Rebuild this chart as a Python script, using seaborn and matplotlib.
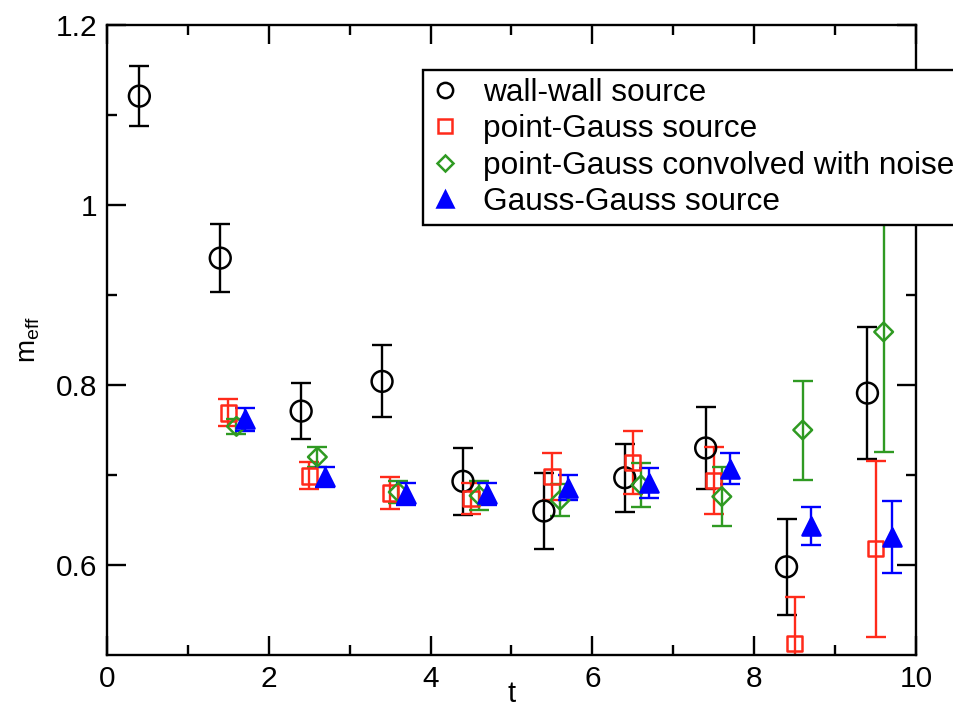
import numpy as np
import pandas as pd
import matplotlib
matplotlib.use("Agg")
import matplotlib.pyplot as plt
from matplotlib.lines import Line2D
import seaborn as sns

# Effective mass per time slice for four source types
t_wall = [0.4, 1.4, 2.4, 3.4, 4.4, 5.4, 6.4, 7.4, 8.4, 9.4]
m_wall = [1.121, 0.941, 0.771, 0.804, 0.693, 0.660, 0.697, 0.730, 0.598, 0.791]
e_wall = [0.033, 0.038, 0.031, 0.040, 0.037, 0.042, 0.038, 0.046, 0.053, 0.073]

t_pg = [1.5, 2.5, 3.5, 4.5, 5.5, 6.5, 7.5, 8.5, 9.5]
m_pg = [0.769, 0.699, 0.680, 0.674, 0.698, 0.714, 0.694, 0.513, 0.618]
e_pg = [0.015, 0.015, 0.018, 0.017, 0.026, 0.035, 0.037, 0.052, 0.098]

t_pgn = [1.6, 2.6, 3.6, 4.6, 5.6, 6.6, 7.6, 8.6, 9.6]
m_pgn = [0.754, 0.720, 0.681, 0.677, 0.672, 0.689, 0.676, 0.750, 0.859]
e_pgn = [0.008, 0.011, 0.012, 0.016, 0.018, 0.024, 0.033, 0.055, 0.133]

t_gg = [1.7, 2.7, 3.7, 4.7, 5.7, 6.7, 7.7, 8.7, 9.7]
m_gg = [0.762, 0.698, 0.679, 0.679, 0.686, 0.691, 0.707, 0.643, 0.631]
e_gg = [0.013, 0.011, 0.012, 0.012, 0.014, 0.017, 0.017, 0.021, 0.040]

labels = ["wall-wall source", "point-Gauss source",
          "point-Gauss convolved with noise", "Gauss-Gauss source"]

x_ticks = [0, 2, 4, 6, 8, 10]
y_ticks = [0.6, 0.8, 1.0, 1.2]
x_tick_labels = ["0", "2", "4", "6", "8", "10"]
y_tick_labels = ["0.6", "0.8", "1", "1.2"]

series = [
    (t_wall, m_wall, e_wall, labels[0]),
    (t_pg, m_pg, e_pg, labels[1]),
    (t_pgn, m_pgn, e_pgn, labels[2]),
    (t_gg, m_gg, e_gg, labels[3]),
]

styles = {
    labels[0]: dict(color="black", marker="o", ms=15, filled=False, leg_ms=11),
    labels[1]: dict(color="#ff2a1a", marker="s", ms=11, filled=False, leg_ms=10),
    labels[2]: dict(color="#2f9a22", marker="D", ms=9.5, filled=False, leg_ms=8.5),
    labels[3]: dict(color="#0000ff", marker="^", ms=13, filled=True, leg_ms=12),
}

sns.set_theme(style="ticks")
plt.rcParams["font.family"] = ["Liberation Sans", "DejaVu Sans"]
plt.rcParams["text.color"] = "black"
plt.rcParams["axes.labelcolor"] = "black"
plt.rcParams["mathtext.fontset"] = "custom"
plt.rcParams["mathtext.rm"] = "Liberation Sans"
plt.rcParams["mathtext.it"] = "Liberation Sans"

fig = plt.figure(figsize=(9.54, 7.14), dpi=100)
ax = fig.add_axes([107 / 954, 1 - 655 / 714, (916 - 107) / 954, (655 - 25) / 714])

for t, m, e, lab in series:
    st = styles[lab]
    df = pd.DataFrame({"t": t, "m": m, "err": e})
    ax.errorbar(df["t"], df["m"], yerr=df["err"], fmt="none",
                ecolor=st["color"], elinewidth=1.7, capsize=7.5,
                capthick=1.7, zorder=2)
    sns.scatterplot(data=df, x="t", y="m", marker=st["marker"],
                    s=st["ms"] ** 2, color=st["color"],
                    facecolor=st["color"] if st["filled"] else "none",
                    edgecolor=st["color"], linewidth=1.8, ax=ax,
                    zorder=3, legend=False)

ax.set_xlim(0, 10)
ax.set_ylim(0.5, 1.2)
ax.set_xticks(x_ticks)
ax.set_xticklabels(x_tick_labels)
ax.set_yticks(y_ticks)
ax.set_yticklabels(y_tick_labels)
ax.set_xticks(np.arange(1, 10, 2), minor=True)
ax.set_yticks([0.7, 0.9, 1.1], minor=True)

for side in ["top", "right", "bottom", "left"]:
    ax.spines[side].set_visible(True)
    ax.spines[side].set_linewidth(1.7)
    ax.spines[side].set_color("black")

ax.tick_params(which="both", direction="in", top=True, right=True,
               color="black", width=1.7, labelsize=21.5, labelcolor="black")
ax.tick_params(which="major", length=14, pad=7)
ax.tick_params(which="minor", length=7)

ax.set_xlabel("t", fontsize=21, labelpad=-9, color="black")
ax.set_ylabel(r"m$_{\mathregular{eff}}$", fontsize=20, labelpad=10, color="black")

handles = [
    Line2D([], [], linestyle="none", marker=styles[l]["marker"],
           markersize=styles[l]["leg_ms"],
           markerfacecolor=styles[l]["color"] if styles[l]["filled"] else "none",
           markeredgecolor=styles[l]["color"], markeredgewidth=1.8)
    for l in labels
]
leg = fig.legend(handles, labels, loc="upper left",
                 bbox_to_anchor=(423 / 954, 1 - 70 / 714),
                 frameon=True, fancybox=False, shadow=False,
                 fontsize=22.8, borderpad=0.25, labelspacing=0.2,
                 handlelength=0.9, handletextpad=0.75, borderaxespad=0)
for txt in leg.get_texts():
    txt.set_color("black")
leg.get_frame().set_edgecolor("black")
leg.get_frame().set_linewidth(1.7)
leg.get_frame().set_alpha(1)

fig.savefig("out.png", dpi=100)
